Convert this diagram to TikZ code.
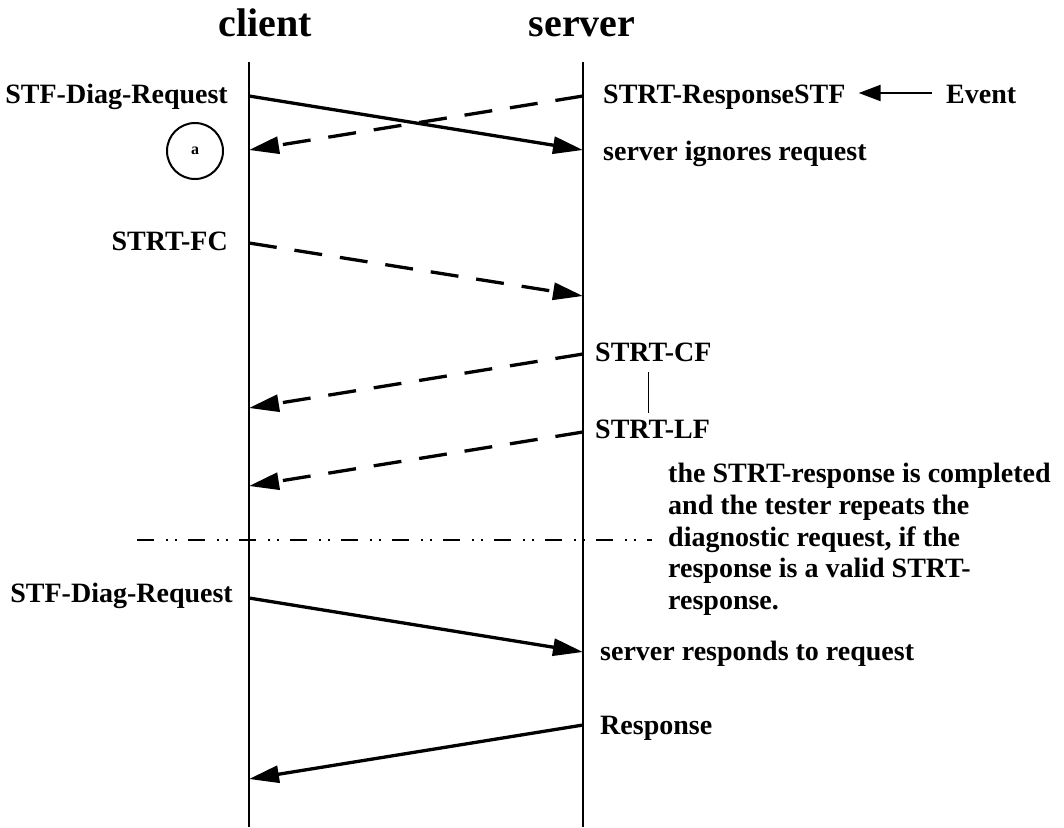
\documentclass[tikz,border=0pt]{standalone}
\usepackage{fontspec}
\setmainfont{Liberation Serif}
\usetikzlibrary{arrows.meta}
\begin{document}
\begin{tikzpicture}[x=1pt,y=-1pt,
  lbl/.style={font=\fontsize{28}{31.7}\selectfont\bfseries, inner sep=0pt},
  ttl/.style={font=\fontsize{40}{44}\selectfont\bfseries, inner sep=0pt},
  life/.style={line width=2pt},
  msg/.style={line width=3.3pt, -{Triangle[length=30pt,width=17pt]}},
  dmsg/.style={msg, dash pattern=on 28pt off 18pt},
  evarrow/.style={line width=2.2pt, -{Triangle[length=22pt,width=16pt]}},
  sep/.style={line width=1.6pt, dash pattern=on 17pt off 12pt on 2pt off 7pt on 2pt off 11pt},
  thinline/.style={line width=1pt}
]
\useasboundingbox (0,0) rectangle (1064,827);
% titles
\node[ttl, anchor=base] (client) at (265,36) {client};
\node[ttl, anchor=base] (server) at (582,36) {server};
% lifelines
\coordinate (ctop) at (249,62);
\coordinate (cbot) at (249,827);
\coordinate (stop) at (583,62);
\coordinate (sbot) at (583,827);
\draw[life] (ctop) -- (cbot);
\draw[life] (stop) -- (sbot);
% message points
\coordinate (c1) at (249,96);   \coordinate (s1) at (583,150);
\coordinate (s2) at (583,96);   \coordinate (c2) at (249,150);
\coordinate (c3) at (249,243);  \coordinate (s3) at (583,296);
\coordinate (s4) at (583,354);  \coordinate (c4) at (249,408);
\coordinate (s5) at (583,432);  \coordinate (c5) at (249,486);
\coordinate (c6) at (249,598);  \coordinate (s6) at (583,652);
\coordinate (s7) at (583,725);  \coordinate (c7) at (249,779);
\coordinate (sepl) at (137,540); \coordinate (sepr) at (652,540);
% labels
\node[lbl, anchor=base east] (req1) at (228,103) {STF-Diag-Request};
\node[lbl, anchor=base west] (resp) at (603,103) {STRT-ResponseSTF};
\node[lbl, anchor=base west] (ev) at (946,103) {Event};
\node[lbl, anchor=base west] (ign) at (603,160) {server ignores request};
\node[circle, draw, line width=2pt, minimum size=56pt, inner sep=0pt,
      font=\fontsize{16}{16}\selectfont\bfseries] (a) at (195,151) {a};
\node[lbl, anchor=base east] (fc) at (228,250) {STRT-FC};
\node[lbl, anchor=base west] (cf) at (595,361) {STRT-CF};
\node[lbl, anchor=base west] (lf) at (595,438) {STRT-LF};
\node[lbl, anchor=north west, align=left] (note) at (668,463)
  {the STRT-response is completed\\and the tester repeats the\\diagnostic request, if the\\response is a valid STRT-\\response.};
\node[lbl, anchor=base east] (req2) at (233,602) {STF-Diag-Request};
\node[lbl, anchor=base west] (resd) at (600,660) {server responds to request};
\node[lbl, anchor=base west] (rsp) at (600,734) {Response};
% messages
\draw[msg] (c1) -- (s1);
\draw[dmsg] (s2) -- (c2);
\draw[dmsg] (c3) -- (s3);
\draw[dmsg] (s4) -- (c4);
\draw[dmsg] (s5) -- (c5);
\draw[sep] (sepl) -- (sepr);
\draw[msg] (c6) -- (s6);
\draw[msg] (s7) -- (c7);
% event arrow
\draw[evarrow] ([xshift=-14pt,yshift=10pt]ev.base west) -- ([xshift=13pt,yshift=10pt]resp.base east);
% thin connector between CF and LF
\draw[thinline] ([yshift=-11pt]cf.base west -| 648,0) -- ([yshift=6pt]lf.north west -| 648,0);
\end{tikzpicture}
\end{document}
